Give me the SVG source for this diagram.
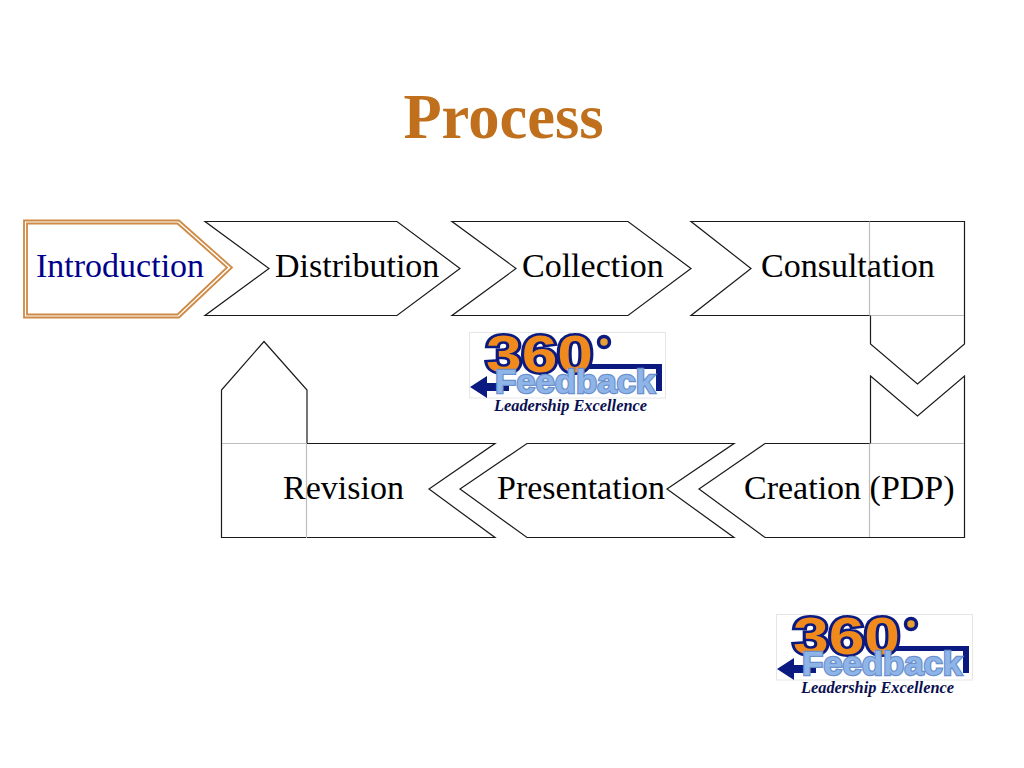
<svg xmlns="http://www.w3.org/2000/svg" width="1024" height="768" viewBox="0 0 1024 768">
<style>
text{font-family:"Liberation Serif","Times New Roman",serif}
.lbl{font-size:34px;fill:#000}
.s{fill:none;stroke:#1a1a1a;stroke-width:1.2}
.g{fill:none;stroke:#bdbdbd;stroke-width:1.2}
.lg{font-family:"Liberation Sans",Arial,sans-serif;font-weight:bold}
</style>
<defs>
<g id="logo">
<rect x="0.5" y="0.5" width="196" height="65.500" fill="#fff" stroke="#e6e6e6" stroke-width="1"/>
<path d="M110 32H193V59H187V37H110Z" fill="#0a1a80"/>
<path d="M1 55L18 44V51H40V59H18V66Z" fill="#0a1a80"/>
<text class="lg" x="17" y="40" font-size="51" textLength="107" lengthAdjust="spacingAndGlyphs" fill="#f08a1c" stroke="#0a1a80" stroke-width="5" paint-order="stroke">360</text>
<circle cx="135" cy="10" r="5.500" fill="#e8a030" stroke="#0a1a80" stroke-width="3.500"/>
<text class="lg" x="26" y="61" font-size="34" textLength="160" lengthAdjust="spacingAndGlyphs" fill="#8fb4e8" stroke="#6a90cc" stroke-width="2.400" paint-order="stroke">Feedback</text>
<text x="25" y="79" font-size="17.500" font-style="italic" font-weight="bold" textLength="153" lengthAdjust="spacingAndGlyphs" fill="#0a0f50">Leadership Excellence</text>
</g>
</defs>
<rect width="1024" height="768" fill="#fff"/>
<text id="title" x="503.500" y="138" font-size="62.500" font-weight="bold" text-anchor="middle" fill="#c0701c">Process</text>
<g id="connectors"></g>
<g id="node-introduction">
<path d="M24 220.500H179L232 267.500L179 317.500H24Z" fill="#fff" stroke="#cf8a45" stroke-width="1.800"/>
<path d="M27 223.500H177.500L227 267.500L177.500 314.500H27Z" fill="none" stroke="#cf8a45" stroke-width="1.800"/>
<text x="36" y="277" font-size="34" fill="#00008b">Introduction</text>
</g>
<g id="node-distribution">
<path class="s" d="M205 221.500H397L460 268.500L397 315.500H205L269 268.500Z"/>
<text class="lbl" x="275" y="277">Distribution</text>
</g>
<g id="node-collection">
<path class="s" d="M452 221.500H628L691 268.500L628 315.500H452L516 268.500Z"/>
<text class="lbl" x="522" y="277">Collection</text>
</g>
<g id="node-consultation">
<path class="s" d="M691 221.500H964.500V344L917.500 384L870.500 344V315.500H691L751 268.500Z"/>
<path class="g" d="M869.500 221.500V315.500M870.500 315.500H964"/>
<text class="lbl" x="761" y="277">Consultation</text>
</g>
<g id="node-creation">
<path class="s" d="M870.500 376L917.500 416L964.500 376V537.500H765L699 489L765 443.500H870.500Z"/>
<path class="g" d="M870.500 443.500H964M869.500 443.500V537"/>
<text class="lbl" x="744" y="499">Creation (PDP)</text>
</g>
<g id="node-presentation">
<path class="s" d="M734 443.500H527L460 489L527 537.500H734L667 489Z"/>
<text class="lbl" x="497" y="499">Presentation</text>
</g>
<g id="node-revision">
<path class="s" d="M495 443.500H307V390L264 341.500L221.500 390V537.500H495L429 489Z"/>
<path class="g" d="M222 443.500H307M306.500 443.500V538"/>
<text class="lbl" x="283" y="499">Revision</text>
</g>
<g id="logo-center" transform="translate(469 332)"><use href="#logo"/></g>
<g id="logo-corner" transform="translate(776 614)"><use href="#logo"/></g>
</svg>
